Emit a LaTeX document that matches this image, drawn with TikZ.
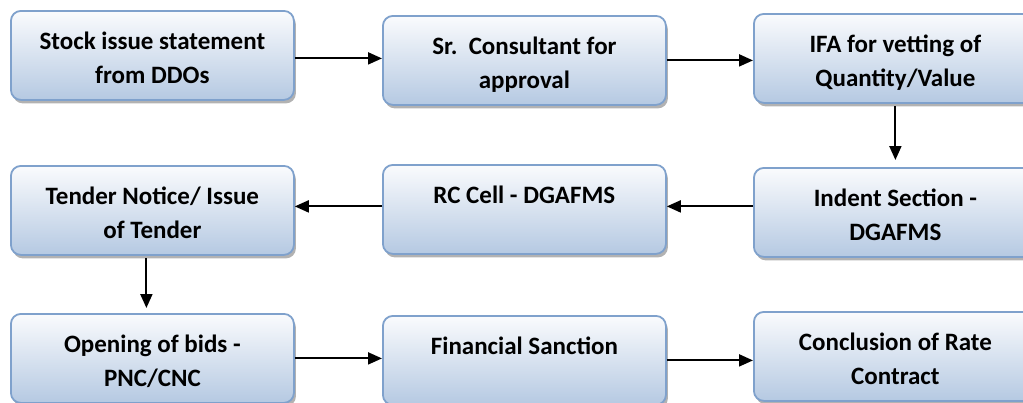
\documentclass[tikz,border=0pt]{standalone}
\usepackage{fontspec}
\setmainfont{Carlito}
\usetikzlibrary{arrows.meta,shadows}
\definecolor{boxtop}{HTML}{FAFBFD}
\definecolor{boxbot}{HTML}{B5C9E2}
\definecolor{boxline}{HTML}{7FA1CC}
\tikzset{
  flowbox/.style={draw=boxline, line width=1.8pt, rounded corners=10pt,
    top color=boxtop, bottom color=boxbot, minimum width=283pt, minimum height=89pt,
    inner sep=0pt, anchor=north west,
    drop shadow={shadow xshift=2pt, shadow yshift=-3.5pt, fill=gray!60, opacity=1}},
  boxtext/.style={anchor=north, inner sep=0pt, align=center,
    font=\bfseries\fontsize{25}{34}\selectfont},
  flowarrow/.style={line width=2pt, -{Triangle[length=14pt,width=12pt]}}
}
\begin{document}
\begin{tikzpicture}[x=1pt,y=-1pt]
\useasboundingbox (0,0) rectangle (1023,402);
\clip (0,0) rectangle (1023,402);
% boxes
\node[flowbox] (b1) at (10,10) {};
\node[flowbox] (b2) at (382,15) {};
\node[flowbox] (b3) at (753,13) {};
\node[flowbox] (b4) at (10,165) {};
\node[flowbox] (b5) at (382,164) {};
\node[flowbox] (b6) at (753,167) {};
\node[flowbox] (b7) at (10,313) {};
\node[flowbox] (b8) at (382,315) {};
\node[flowbox] (b9) at (753,311) {};
% texts
\node[boxtext] (t1) at ([yshift=-15pt]b1.north) {\strut Stock issue statement\\from DDOs};
\node[boxtext] (t2) at ([yshift=-15pt]b2.north) {\strut Sr.\ \ Consultant for\\approval};
\node[boxtext] (t3) at ([yshift=-15pt]b3.north) {\strut IFA for vetting of\\Quantity/Value};
\node[boxtext] (t4) at ([yshift=-15pt]b4.north) {\strut Tender Notice/ Issue\\of Tender};
\node[boxtext] (t5) at ([yshift=-15pt]b5.north) {\strut RC Cell - DGAFMS};
\node[boxtext] (t6) at ([yshift=-15pt]b6.north) {\strut Indent Section -\\DGAFMS};
\node[boxtext] (t7) at ([yshift=-15pt]b7.north) {\strut Opening of bids -\\PNC/CNC};
\node[boxtext] (t8) at ([yshift=-15pt]b8.north) {\strut Financial Sanction};
\node[boxtext] (t9) at ([yshift=-15pt]b9.north) {\strut Conclusion of Rate\\Contract};
% connectors
\draw[flowarrow] ([yshift=-3pt]b1.east) -- ([yshift=-3pt]b2.west |- b1.east);
\draw[flowarrow] (b2.east) -- (b3.west |- b2.east);
\draw[flowarrow] ([yshift=-2pt]b3.south) -- ([yshift=7pt]b6.north);
\draw[flowarrow] ([yshift=6pt]b6.west) -- ([yshift=6pt]b5.east |- b6.west);
\draw[flowarrow] ([yshift=3pt]b5.west) -- ([yshift=3pt]b4.east |- b5.west);
\draw[flowarrow] ([xshift=-6pt,yshift=-2pt]b4.south) -- ([xshift=-6pt,yshift=5pt]b7.north);
\draw[flowarrow] (b7.east) -- (b8.west |- b7.east);
\draw[flowarrow] (b8.east) -- (b9.west |- b8.east);
\end{tikzpicture}
\end{document}
